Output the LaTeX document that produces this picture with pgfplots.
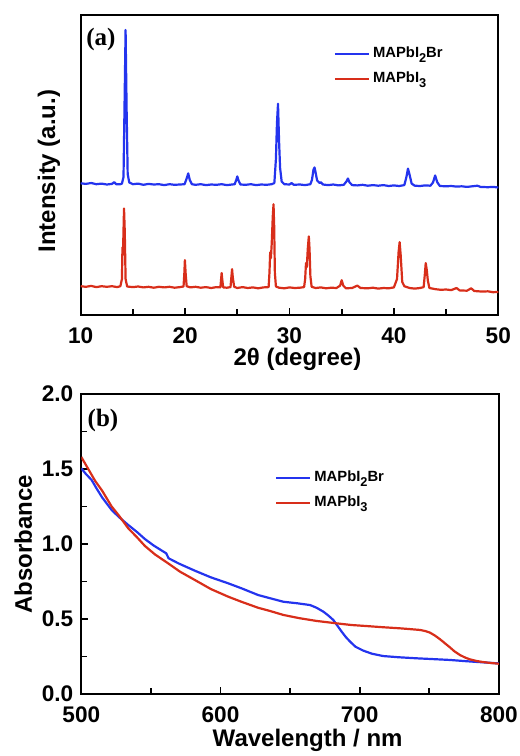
\documentclass[border=0pt]{standalone}
\usepackage{fontspec}
\setmainfont{Liberation Sans}
\newfontfamily\tnr{Liberation Serif}
\usepackage{pgfplots}
\pgfplotsset{compat=1.18}
\definecolor{xblue}{RGB}{36,52,238}
\definecolor{xred}{RGB}{216,46,26}
\newcommand\sub[1]{\raisebox{-0.6ex}{\fontsize{6.4}{7}\selectfont #1}}

\pgfplotsset{
  panel/.style={
    scale only axis, width=208.8pt, height=150pt,
    axis line style={line width=1.1pt},
    tick style={line width=0.9pt, black},
    tick align=inside, xtick pos=bottom, ytick pos=left,
    major tick length=3.5pt, minor tick length=3pt,
    minor x tick num=1,
    ticklabel style={font=\bfseries\fontsize{11.3}{13}\selectfont},
    /pgf/number format/assume math mode=true,
    label style={font=\bfseries\fontsize{12}{14}\selectfont},
    xticklabel shift=2.7pt, yticklabel shift=0.5pt,
    enlargelimits=false,
    legend cell align=left,
    legend style={draw=none, fill=none, inner sep=0pt, row sep=2.6pt,
      font=\bfseries\fontsize{7.4}{8}\selectfont, nodes={inner sep=1.5pt}},
    every axis plot/.append style={line width=1.1pt, line join=round},
  }
}

\begin{document}
\begin{tikzpicture}
\useasboundingbox (-40.35pt,7.5pt) rectangle (219.65pt,-370.5pt);

% (a) XRD
\begin{axis}[panel, name=top, at={(0,0)}, anchor=north west,
  xmin=10, xmax=50, ymin=0, ymax=100,
  xtick={10,20,30,40,50}, ytick=\empty,
  xlabel={2θ (degree)}, ylabel={Intensity (a.u.)},
  xlabel style={at={(axis description cs:0.519,-0.147)}, anchor=center},
  ylabel style={at={(axis description cs:-0.076,0.48)}, anchor=center},
  legend style={at={(axis description cs:0.605,0.905)}, anchor=north west},
]
\addplot[xblue] coordinates {
(10.0,43.9)(10.5,43.7)(11.0,44.0)(11.5,43.6)(12.0,43.8)(12.5,43.5)(13.0,43.7)
(13.2,44.3)(13.4,43.6)(13.8,43.6)(13.95,43.8)(14.1,46)(14.2,70)(14.3,95)
(14.4,68)(14.5,47)(14.65,44.2)(15.0,43.6)(15.5,43.8)(16.0,43.4)(16.5,43.7)
(17.0,43.5)(17.5,43.6)(18.0,43.3)(18.5,43.6)(19.0,43.4)(19.5,43.5)(19.95,43.6)
(20.15,45.5)(20.3,47.2)(20.45,45)(20.65,43.6)(21.0,43.4)(21.5,43.6)(22.0,43.3)
(22.5,43.5)(23.0,43.4)(23.5,43.6)(24.0,43.3)(24.5,43.5)(24.75,43.6)(24.9,45)
(25.0,46.2)(25.12,44.8)(25.3,43.5)(25.8,43.4)(26.3,43.6)(26.8,43.3)(27.3,43.5)
(27.8,43.4)(28.3,43.6)(28.55,44.0)(28.7,52)(28.8,64)(28.9,70.4)(29.0,58)
(29.1,49)(29.25,44.5)(29.5,43.6)(30.0,43.5)(30.2,44.0)(30.4,43.4)(31.0,43.5)
(31.5,43.3)(32.0,43.6)(32.15,45)(32.3,48.5)(32.4,49.2)(32.5,47.5)(32.65,44.8)
(32.9,44.0)(33.0,44.3)(33.2,43.5)(33.7,43.3)(34.2,43.5)(34.7,43.2)(35.2,43.4)
(35.45,44.5)(35.6,45.5)(35.75,44.2)(36.0,43.3)(36.5,43.2)(37.0,43.4)(37.5,43.1)
(38.0,43.3)(38.5,43.1)(39.0,43.3)(39.5,43.0)(40.0,43.2)(40.5,43.0)(41.0,43.3)
(41.2,46)(41.35,48.8)(41.5,46.8)(41.7,43.8)(42.0,43.1)(42.5,43.0)(43.0,43.2)
(43.5,43.1)(43.75,44.2)(43.95,46.5)(44.15,44.3)(44.4,43.0)(45.0,42.9)(45.5,43.0)
(46.0,42.8)(46.5,42.9)(47.0,42.7)(47.5,42.9)(48.0,43.1)(48.3,42.7)(49.0,42.6)
(49.5,42.7)(50.0,42.5)
};
\addlegendentry{MAPbI\sub{2}Br}
\addplot[xred] coordinates {
(10.0,9.6)(10.5,9.4)(11.0,9.7)(11.5,9.3)(12.0,9.6)(12.5,9.4)(13.0,9.6)(13.5,9.3)
(13.8,9.6)(13.95,12)(14.0,22.6)(14.05,20)(14.1,28)(14.15,35.5)(14.22,28)
(14.3,12)(14.45,9.5)(15.0,9.3)(15.5,9.5)(16.0,9.2)(16.5,9.4)(17.0,9.1)(17.5,9.4)
(18.0,9.2)(18.5,9.4)(19.0,9.1)(19.5,9.3)(19.85,9.5)(19.93,14)(19.98,18.3)
(20.05,14)(20.15,9.6)(20.5,9.2)(21.0,9.4)(21.5,9.1)(22.0,9.3)(22.5,9.0)(23.0,9.3)
(23.38,9.2)(23.45,12)(23.5,14.0)(23.56,11.8)(23.65,9.2)(24.0,9.1)(24.35,9.3)
(24.43,12.5)(24.5,15.3)(24.57,12.5)(24.7,9.4)(25.0,9.0)(25.5,9.3)(26.0,9.0)
(26.5,9.2)(27.0,8.9)(27.5,9.2)(28.0,9.3)(28.08,14)(28.15,20.9)(28.22,19)
(28.3,24)(28.4,33)(28.47,36.9)(28.53,30)(28.6,14)(28.7,9.5)(29.0,9.1)(29.5,8.9)
(30.0,9.2)(30.5,9.0)(31.0,9.1)(31.4,9.3)(31.5,12)(31.58,17.3)(31.66,16)
(31.75,22)(31.85,26.2)(31.92,22)(32.0,13)(32.12,9.4)(32.5,9.0)(33.0,9.2)
(33.5,8.9)(34.0,9.1)(34.5,9.0)(34.85,9.8)(35.0,11.6)(35.15,9.8)(35.4,8.9)
(36.0,9.0)(36.5,9.8)(36.8,9.0)(37.5,8.9)(38.0,9.1)(38.5,8.8)(39.0,9.0)(39.5,8.9)
(40.0,9.2)(40.3,12)(40.45,21)(40.55,24.3)(40.65,20)(40.8,11)(41.0,9.6)(41.5,9.0)
(42.0,8.8)(42.5,9.0)(42.85,9.3)(42.95,13)(43.05,17.3)(43.15,15)(43.25,11.5)
(43.4,9.0)(44.0,8.6)(44.5,8.4)(45.0,8.5)(45.5,8.3)(46.0,9.0)(46.3,8.2)(47.0,8.1)
(47.4,8.9)(47.7,8.0)(48.5,7.8)(49.0,7.9)(49.5,7.6)(50.0,7.7)
};
\addlegendentry{MAPbI\sub{3}}
\node[anchor=north west, inner sep=0pt, xshift=2.6pt, yshift=-6.5pt,
  font=\tnr\bfseries\fontsize{12.5}{14}\selectfont] at (rel axis cs:0,1) {(a)};
\end{axis}

% (b) absorbance
\begin{axis}[panel, at={(0.3pt,-189.5pt)}, anchor=north west,
  xmin=500, xmax=800, ymin=0, ymax=2,
  xtick={500,600,700,800}, ytick={0,0.5,1,1.5,2},
  minor y tick num=1,
  yticklabel style={/pgf/number format/.cd, fixed, fixed zerofill, precision=1},
  xlabel={Wavelength / nm}, ylabel={Absorbance},
  xlabel style={at={(axis description cs:0.542,-0.153)}, anchor=center},
  ylabel style={at={(axis description cs:-0.139,0.5)}, anchor=center},
  legend style={at={(axis description cs:0.463,0.755)}, anchor=north west},
]
\addplot[xblue] coordinates {
(500,1.505)(503,1.47)(507.4,1.427)(511,1.37)(515,1.31)(521.8,1.227)(527,1.18)
(533.7,1.127)(540,1.08)(545.7,1.033)(552,0.99)(558,0.955)(561,0.938)(562.7,0.905)
(570,0.87)(581.6,0.822)(593,0.778)(605.5,0.738)(615,0.705)(627,0.66)(635,0.64)
(645.2,0.615)(655,0.605)(664.4,0.593)(669,0.575)(673.9,0.549)(677.5,0.523)
(681.1,0.493)(684,0.455)(687.1,0.415)(690,0.38)(693.1,0.349)(697,0.315)
(702.6,0.289)(709,0.268)(717,0.253)(728,0.245)(740.9,0.238)(752,0.233)
(764.8,0.227)(776,0.219)(788.7,0.211)(800,0.204)
};
\addlegendentry{MAPbI\sub{2}Br}
\addplot[xred] coordinates {
(500,1.58)(505,1.50)(510,1.42)(515,1.355)(521.8,1.25)(527,1.19)(533.7,1.105)
(540,1.045)(545.7,0.987)(553,0.93)(562.4,0.871)(571,0.815)(581.6,0.76)
(593,0.70)(605.5,0.649)(615,0.615)(627,0.575)(635,0.555)(645.2,0.527)
(657,0.505)(669.1,0.487)(683.5,0.471)(694,0.46)(705,0.453)(717,0.445)
(728.9,0.438)(737,0.432)(743.3,0.427)(747,0.42)(750.5,0.409)(754,0.39)
(757.7,0.365)(761,0.34)(764.8,0.311)(768,0.285)(772,0.26)(776,0.242)
(779.2,0.231)(784,0.22)(788.7,0.213)(794,0.207)(800,0.202)
};
\addlegendentry{MAPbI\sub{3}}
\node[anchor=north west, inner sep=0pt, xshift=3pt, yshift=-7.5pt,
  font=\tnr\bfseries\fontsize{12.5}{14}\selectfont] at (rel axis cs:0,1) {(b)};
\end{axis}
\end{tikzpicture}
\end{document}
